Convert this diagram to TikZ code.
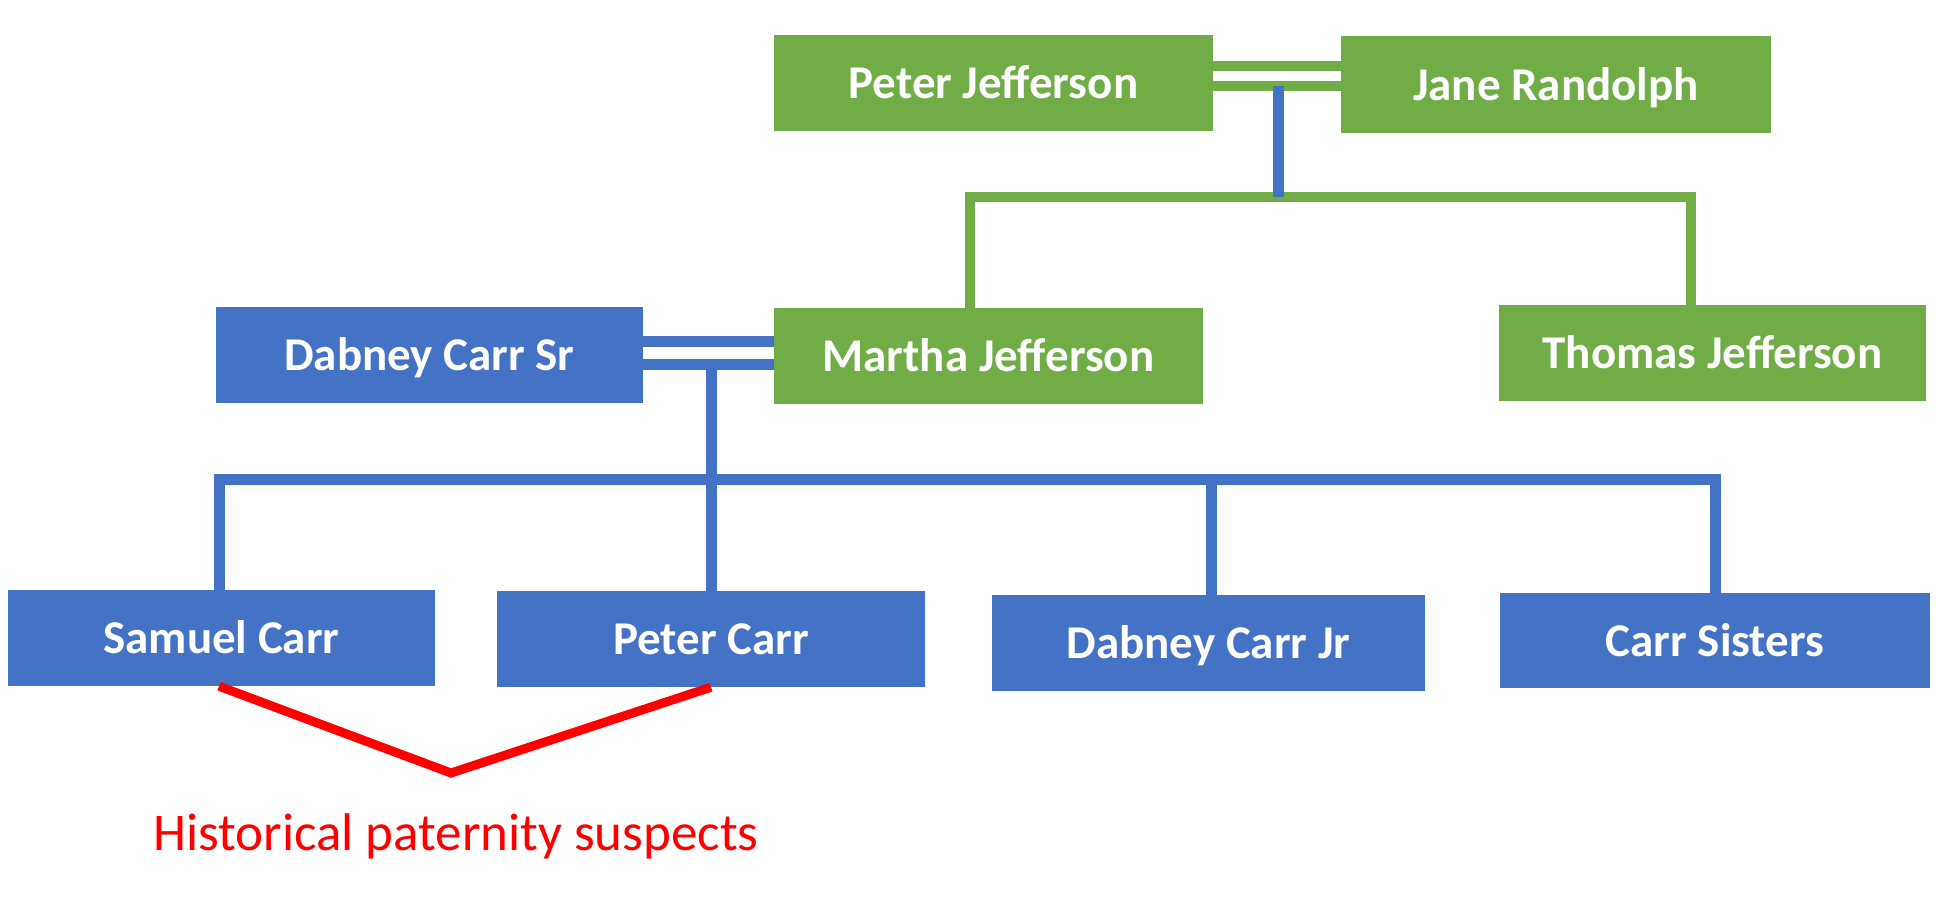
\documentclass[tikz,border=0pt]{standalone}
\usepackage{fontspec}
\setmainfont{Carlito}
\definecolor{pgreen}{HTML}{70AD47}
\definecolor{pblue}{HTML}{4472C4}
\definecolor{pred}{HTML}{FF0000}
\begin{document}
\begin{tikzpicture}[x=1pt,y=-1pt,
  person/.style={fill=#1, draw=none, inner sep=0pt, minimum height=96pt,
    text=white, font=\fontsize{47}{52}\selectfont\bfseries,
    text height=31pt, text depth=0pt},
  greenline/.style={draw=pgreen, line width=10pt},
  blueline/.style={draw=pblue, line width=11pt},
  redline/.style={draw=pred, line width=9pt, line join=miter},
  note/.style={text=pred, font=\fontsize{53}{60}\selectfont, inner sep=0pt, anchor=base west}]
\fill[white] (0,0) rectangle (1938,903);
\useasboundingbox (0,0) rectangle (1938,903);

% nodes
\node[person=pgreen, minimum width=439pt] (PJ) at (993.5,83) {Peter Jefferson};
\node[person=pgreen, minimum width=430pt, minimum height=97pt] (JR) at (1556,84.5) {Jane Randolph};
\node[person=pblue, minimum width=427pt] (DCS) at (429.5,355) {Dabney Carr Sr};
\node[person=pgreen, minimum width=429pt] (MJ) at (988.5,356) {Martha Jefferson};
\node[person=pgreen, minimum width=427pt] (TJ) at (1712.5,353) {Thomas Jefferson};
\node[person=pblue, minimum width=427pt] (SC) at (221.5,638) {Samuel Carr};
\node[person=pblue, minimum width=428pt] (PC) at (711,639) {Peter Carr};
\node[person=pblue, minimum width=433pt] (DCJ) at (1208.5,643) {Dabney Carr Jr};
\node[person=pblue, minimum width=430pt, minimum height=95pt] (CS) at (1715,640.5) {Carr Sisters};

% Jefferson parents marriage
\draw[greenline] (PJ.east |- 0,66) -- (JR.west |- 0,66);
\draw[greenline] (PJ.east |- 0,85.5) -- (JR.west |- 0,85.5);
% Jefferson children bar
\draw[greenline] (970,0 |- MJ.north) -- (970,197) -- (1691,197) -- (1691,0 |- TJ.north);
\coordinate (pjm) at (1278,86);
\coordinate (pjk) at (1278,197);
\draw[blueline] (pjm) -- (pjk);

% Carr marriage
\draw[blueline] (DCS.east |- 0,341.5) -- (MJ.west |- 0,341.5);
\draw[blueline] (DCS.east |- 0,364.5) -- (MJ.west |- 0,364.5);
% Carr children
\draw[blueline] (219,0 |- SC.north) -- (219,479) -- (1715,479) -- (1715,0 |- CS.north);
\draw[blueline] (711,365) -- (PC.north);
\draw[blueline] (1211,479) -- (1211,0 |- DCJ.north);

% suspects
\coordinate (vtip) at (451,773);
\draw[redline] (219,0 |- SC.south) -- (vtip) -- (PC.south);
\node[note] (lbl) at (153,850) {Historical paternity suspects};
\end{tikzpicture}
\end{document}
